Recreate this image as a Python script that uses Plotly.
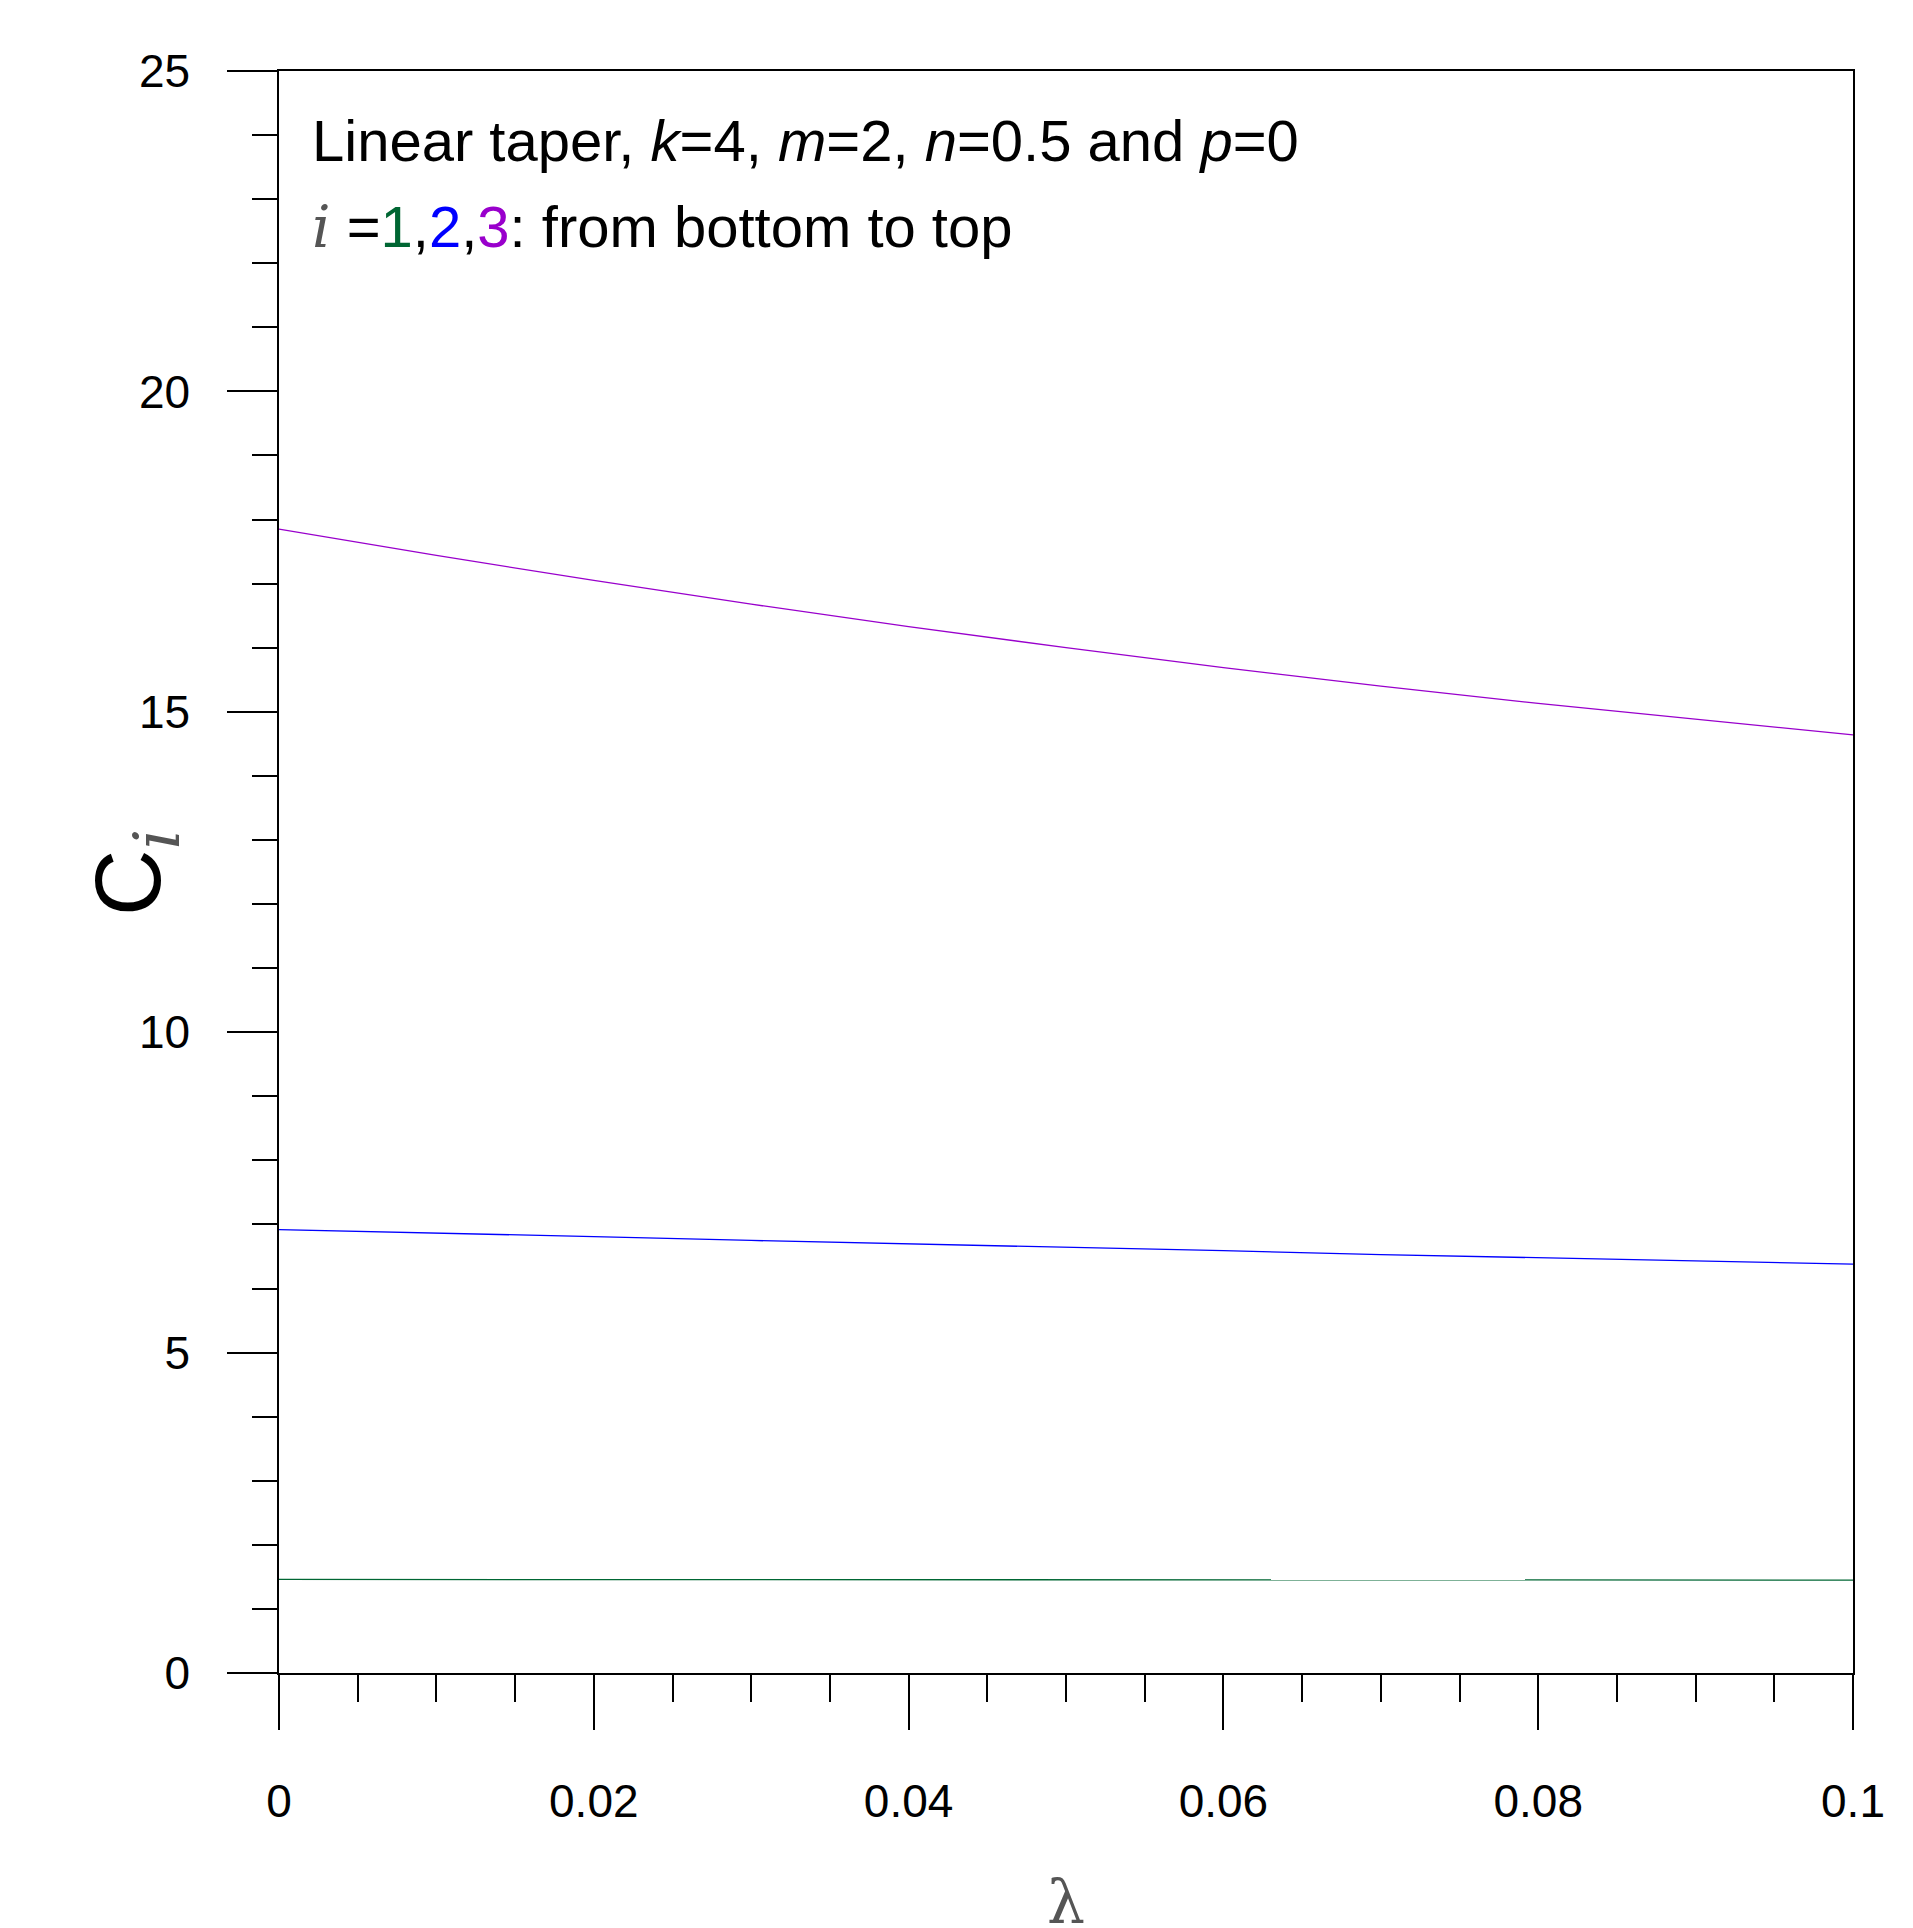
import plotly.graph_objects as go

lam = [0.0, 0.01, 0.02, 0.03, 0.04, 0.05, 0.06, 0.07, 0.08, 0.09, 0.1]
c1 = [1.46, 1.46, 1.46, 1.46, 1.46, 1.455, 1.455, 1.45, 1.45, 1.45, 1.45]
c2 = [6.92, 6.87, 6.81, 6.75, 6.70, 6.64, 6.59, 6.53, 6.48, 6.43, 6.38]
c3 = [17.85, 17.44, 17.05, 16.68, 16.33, 16.00, 15.69, 15.40, 15.13, 14.88, 14.64]

x_ticks = [0, 0.02, 0.04, 0.06, 0.08, 0.1]
x_tick_text = ["0", "0.02", "0.04", "0.06", "0.08", "0.1"]
y_ticks = [0, 5, 10, 15, 20, 25]

fig = go.Figure()
for y, col in [(c1, "#006633"), (c2, "#0000ff"), (c3, "#9900cc")]:
    fig.add_trace(go.Scatter(x=lam, y=y, mode="lines", line=dict(color=col, width=1.3),
                             showlegend=False))

axis_common = dict(showline=True, linecolor="black", linewidth=1.5, mirror=True,
                   showgrid=False, zeroline=False, ticks="outside", tickcolor="black",
                   tickwidth=1.5, tickfont=dict(family="Liberation Sans", size=46, color="black"))

fig.update_xaxes(range=[0, 0.1], tickvals=x_ticks, ticktext=x_tick_text, ticklen=55,
                 minor=dict(dtick=0.005, ticklen=27, ticks="outside", tickcolor="black", tickwidth=1.5),
                 ticklabelstandoff=32, **axis_common)
fig.update_yaxes(range=[0, 25], tickvals=y_ticks, ticklen=50,
                 minor=dict(dtick=1, ticklen=25, ticks="outside", tickcolor="black", tickwidth=1.5),
                 ticklabelstandoff=28, **axis_common)

font = dict(family="Liberation Sans", size=58, color="black")
fig.add_annotation(xref="paper", yref="paper", x=0.02, y=0.978, xanchor="left", yanchor="top",
                   showarrow=False, font=font,
                   text="Linear taper, <i>k</i>=4, <i>m</i>=2, <i>n</i>=0.5 and <i>p</i>=0")
fig.add_annotation(xref="paper", yref="paper", x=0.02, y=0.925, xanchor="left", yanchor="top",
                   showarrow=False, font=font,
                   text="<span style='font-family:DejaVu Serif;color:#555'><i>i</i></span> ="
                        "<span style='color:#006633'>1</span>,"
                        "<span style='color:#0000ff'>2</span>,"
                        "<span style='color:#9900cc'>3</span>: from bottom to top")
fig.add_annotation(xref="paper", yref="paper", x=-0.13, y=0.5, textangle=-90,
                   showarrow=False, font=dict(family="Liberation Sans", size=92, color="black"),
                   text="C<sub><span style='font-family:DejaVu Serif;color:#555'><i>i</i></span></sub>")
fig.add_annotation(xref="paper", yref="paper", x=0.5, y=-0.12, yanchor="top",
                   showarrow=False, font=dict(family="DejaVu Serif", size=60, color="#555"),
                   text="λ")

fig.update_layout(width=1913, height=1928, margin=dict(l=271, r=68, t=63, b=263),
                  plot_bgcolor="white", paper_bgcolor="white")

fig.write_html("out.html")
